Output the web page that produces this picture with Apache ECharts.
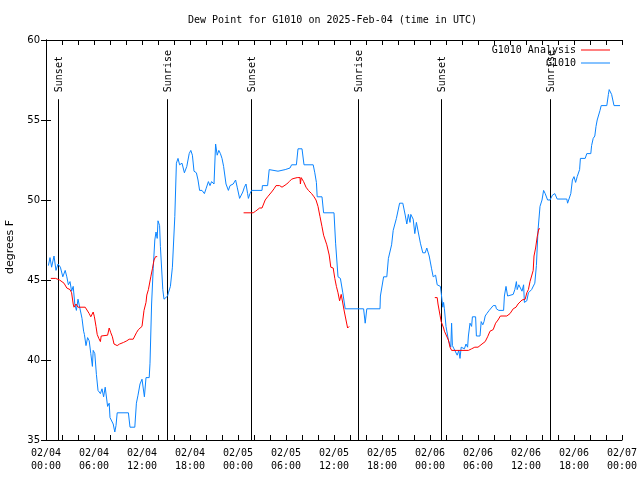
<!DOCTYPE html>
<html><head><meta charset="utf-8">
<script src="https://cdn.jsdelivr.net/npm/echarts@6/dist/echarts.min.js"></script>
<style>html,body{margin:0;padding:0;background:#fff}#c{width:640px;height:480px}</style>
</head><body><div id="c"></div>
<script>
// ---------------- data ----------------
const titleText = 'Dew Point for G1010 on 2025-Feb-04 (time in UTC)';
const yAxisName = 'degrees F';
const seriesNames = ['G1010 Analysis', 'G1010'];
const startMonth = '02';
const startDay = 4;          // hours are counted from 02/04 00:00 UTC
const xRange = [0, 72];
const yRange = [35, 60];

const sunHours = [1.55, 15.1, 25.6, 39.05, 49.4, 63.0];
const sunNames = ['Sunset', 'Sunrise', 'Sunset', 'Sunrise', 'Sunset', 'Sunrise'];

// observed G1010 dew point [hour, degF]
const g1010 = [
[0.3,45.9],[0.5,46.4],[0.7,45.8],[1.0,46.5],[1.25,45.6],[1.5,46.0],[1.8,45.8],[2.1,45.2],[2.4,45.6],[2.6,45.2],
[2.8,44.7],[3.0,44.9],[3.2,44.3],[3.4,44.6],[3.6,43.5],[3.8,43.1],[4.0,43.8],[4.2,43.7],[4.5,42.6],[4.7,41.8],
[4.8,41.6],[5.0,40.9],[5.2,41.4],[5.4,41.2],[5.6,40.4],[5.8,39.6],[5.9,40.6],[6.1,40.4],[6.3,39.1],[6.5,38.1],
[6.8,37.9],[7.0,38.2],[7.2,37.7],[7.4,38.3],[7.6,38.4],[7.7,37.1],[7.9,37.3],[8.0,36.4],[8.2,36.5],[8.4,36.0],
[8.6,35.5],[8.75,35.9],[8.9,36.7],[9.5,36.7],[10.3,36.7],[10.5,35.8],[11.1,35.8],[11.3,37.3],[11.5,37.8],[11.75,38.5],
[12.0,38.8],[12.3,37.7],[12.5,38.9],[12.9,38.9],[13.0,39.8],[13.2,43.5],[13.4,45.7],[13.6,47.5],[13.75,48.0],[13.9,47.6],
[14.0,48.7],[14.2,48.4],[14.3,47.1],[14.6,44.4],[14.75,43.8],[14.9,43.85],[15.2,44.0],[15.3,44.2],[15.55,44.6],[15.8,45.8],
[16.1,48.96],[16.3,52.3],[16.5,52.6],[16.7,52.2],[17.0,52.3],[17.3,51.7],[17.6,52.1],[17.9,52.9],[18.1,53.1],[18.3,52.8],
[18.5,51.8],[18.8,51.7],[19.0,51.25],[19.2,50.6],[19.5,50.6],[19.8,50.4],[20.0,50.7],[20.3,51.15],[20.5,50.9],[20.7,51.15],
[21.0,51.0],[21.2,53.5],[21.4,52.8],[21.6,53.1],[21.8,52.9],[22.0,52.6],[22.2,52.1],[22.5,51.0],[22.8,50.6],[23.0,50.9],
[23.4,51.0],[23.7,51.25],[23.9,50.8],[24.2,50.1],[24.3,50.0],[24.6,50.5],[24.8,50.8],[25.0,51.0],[25.2,50.4],[25.3,50.1],
[25.5,50.4],[25.7,50.6],[27.0,50.6],[27.05,50.9],[27.7,50.9],[27.9,51.9],[29.0,51.8],[29.9,51.9],[30.5,52.0],[30.7,52.2],
[31.3,52.2],[31.5,53.2],[32.0,53.2],[32.25,52.2],[33.4,52.2],[33.6,51.7],[33.8,51.1],[33.9,50.2],[34.5,50.2],[34.7,49.2],
[36.0,49.2],[36.2,47.3],[36.5,45.2],[36.8,45.1],[37.1,44.2],[37.2,44.2],[37.4,43.2],[39.7,43.2],[39.9,42.3],[40.1,43.2],
[41.75,43.2],[41.8,44.0],[42.2,45.2],[42.6,45.2],[42.8,46.35],[43.2,47.2],[43.4,48.1],[43.8,48.85],[44.2,49.8],[44.4,49.9],
[44.6,49.8],[44.9,49.06],[45.1,48.5],[45.3,49.1],[45.5,48.6],[45.6,49.1],[45.9,48.8],[46.1,47.9],[46.3,48.6],[46.5,48.5],
[46.8,47.3],[47.1,46.7],[47.4,46.7],[47.6,47.0],[47.9,46.5],[48.2,45.7],[48.4,45.2],[48.7,45.3],[48.9,44.7],[49.3,44.6],
[49.4,44.2],[49.6,43.3],[49.7,43.6],[49.8,43.2],[50.0,42.1],[50.2,42.0],[50.3,41.25],[50.6,40.8],[50.7,42.3],[50.8,40.9],
[51.0,40.7],[51.2,40.7],[51.4,40.3],[51.6,40.6],[51.75,40.1],[51.9,40.8],[52.1,40.9],[52.3,40.7],[52.5,41.0],[52.7,40.8],
[52.8,41.5],[53.0,42.3],[53.2,42.1],[53.3,42.7],[53.7,42.7],[53.8,41.5],[54.25,41.5],[54.4,42.4],[54.6,42.2],[54.75,42.4],
[54.9,42.75],[55.1,42.9],[55.4,43.1],[55.9,43.4],[56.2,43.4],[56.3,43.2],[56.6,43.1],[57.2,43.1],[57.3,44.0],[57.5,44.6],
[57.7,44.0],[58.4,44.1],[58.6,44.4],[58.8,44.9],[58.9,44.4],[59.1,44.7],[59.5,44.3],[59.7,44.7],[59.8,43.6],[60.1,43.7],
[60.3,44.2],[60.7,44.4],[61.1,44.8],[61.3,45.9],[61.5,48.1],[61.75,49.6],[62.0,50.0],[62.2,50.6],[62.4,50.4],[62.7,50.0],
[63.0,50.0],[63.3,50.3],[63.6,50.4],[63.9,50.06],[65.1,50.06],[65.2,49.8],[65.4,49.8],[65.6,50.4],[65.8,51.25],[66.0,51.46],
[66.2,51.1],[66.4,51.46],[66.7,51.9],[66.8,52.6],[67.4,52.6],[67.6,52.9],[68.1,52.9],[68.2,53.4],[68.4,53.85],[68.6,54.0],
[68.75,54.6],[68.9,55.0],[69.1,55.1],[69.25,55.6],[69.4,55.9],[70.1,55.9],[70.3,56.6],[70.4,56.9],[70.6,56.9],[70.7,56.6],
[71.0,55.9],[71.75,55.9]
];

// analysis runs [hour, degF]
const analysisRun1 = [
[0.6,45.1],[1.2,45.1],[1.7,45.0],[1.9,45.0],[2.25,44.8],[2.6,44.5],[3.0,44.4],[3.2,44.2],[3.4,43.5],[3.5,43.3],
[3.75,43.5],[4.0,43.3],[4.2,43.2],[4.5,43.3],[4.9,43.3],[5.1,43.2],[5.4,42.9],[5.6,42.7],[5.8,42.6],[5.9,43.0],
[6.05,42.7],[6.25,42.1],[6.4,41.6],[6.6,41.35],[6.8,41.15],[6.9,41.5],[7.0,41.55],[7.7,41.55],[7.9,42.0],[8.1,41.7],
[8.3,41.45],[8.5,41.0],[8.7,40.9],[8.9,40.9],[9.2,41.0],[9.7,41.1],[10.1,41.2],[10.4,41.3],[10.9,41.3],[11.1,41.4],
[11.3,41.7],[11.55,41.9],[11.75,42.0],[12.0,42.1],[12.1,42.5],[12.25,43.1],[12.5,43.6],[12.6,44.06],[12.8,44.4],[13.0,44.5],
[13.1,45.2],[13.3,45.7],[13.5,46.25],[13.7,46.46],[13.9,46.46]
];
const analysisRun2 = [
[24.7,49.2],[25.9,49.2],[26.2,49.3],[26.7,49.5],[27.0,49.5],[27.4,50.0],[27.7,50.2],[27.9,50.1],[28.2,50.5],[28.5,50.7],
[28.75,50.9],[29.2,50.9],[29.5,50.8],[29.75,50.8],[30.1,51.0],[30.4,51.15],[30.7,51.3],[31.0,51.35],[31.4,51.4],[31.75,51.4],
[31.8,51.0],[31.9,51.4],[32.2,51.15],[32.5,50.8],[32.8,50.6],[33.2,50.4],[33.5,50.2],[33.75,50.0],[34.0,49.6],[34.25,48.96],
[34.5,48.33],[34.7,47.8],[34.9,47.7],[35.1,47.2],[35.4,46.56],[35.6,45.8],[35.9,45.75],[36.1,45.1],[36.3,44.6],[36.5,44.2],
[36.7,43.7],[36.9,44.1],[37.0,44.1],[37.3,43.0],[37.5,42.5],[37.7,42.0],[37.9,42.1]
];
const analysisRun3 = [
[48.6,43.9],[48.9,43.9],[49.0,43.5],[49.25,42.8],[49.4,42.4],[49.7,42.0],[49.8,41.8],[50.0,41.7],[50.3,41.25],[50.5,40.8],
[50.7,40.6],[51.75,40.6],[52.8,40.6],[53.2,40.7],[53.6,40.8],[54.0,40.8],[54.5,41.0],[54.9,41.15],[55.2,41.45],[55.5,41.8],
[55.9,41.9],[56.2,42.3],[56.5,42.5],[56.8,42.75],[57.6,42.75],[58.0,42.9],[58.4,43.2],[58.75,43.3],[59.0,43.5],[59.5,43.75],
[59.9,43.8],[60.1,44.2],[60.3,44.4],[60.5,44.9],[60.7,45.0],[60.9,45.6],[61.0,46.5],[61.2,47.0],[61.4,47.7],[61.6,48.2],
[61.75,48.2]
];

// ---------------- chart ----------------
const mono = '"DejaVu Sans Mono", "Liberation Mono", monospace';
const sans = '"DejaVu Sans", sans-serif';
const sunLineTop = 56.3;

function xLabel(v) {
  const h = Math.round(v);
  if (h % 6 !== 0) return '';
  const d = startDay + Math.floor(h / 24);
  const hh = h % 24;
  return startMonth + '/' + String(d).padStart(2, '0') + '\n' + String(hh).padStart(2, '0') + ':00';
}

const analysisData = analysisRun1.concat([[19, '-']], analysisRun2, [[43, '-']], analysisRun3);

const axisLineStyle = { show: true, lineStyle: { color: '#000', width: 1 } };
const tickStyle = { show: true, inside: true, length: 5, lineStyle: { color: '#000', width: 1 } };

const chart = echarts.init(document.getElementById('c'), null, { renderer: 'canvas' });
chart.setOption({
  animation: false,
  backgroundColor: '#fff',
  title: {
    text: titleText, left: 183, top: 10,
    textStyle: { fontFamily: mono, fontSize: 10, fontWeight: 'normal', color: '#000' }
  },
  grid: { left: 46, right: 18, top: 40, bottom: 40, containLabel: false, outerBoundsMode: 'none' },
  legend: {
    data: seriesNames, orient: 'vertical', right: 30, top: 44, align: 'right', padding: 0,
    icon: 'rect', itemWidth: 29, itemHeight: 1, itemGap: 1,
    textStyle: { fontFamily: mono, fontSize: 10, color: '#000', lineHeight: 12 }
  },
  xAxis: [
    { type: 'value', min: xRange[0], max: xRange[1], interval: 2, position: 'bottom',
      axisLine: axisLineStyle, axisTick: tickStyle, splitLine: { show: false },
      axisLabel: { formatter: xLabel, fontFamily: mono, fontSize: 10, color: '#000', lineHeight: 13, margin: 7,
                   showMinLabel: true, showMaxLabel: true, hideOverlap: false } },
    { type: 'value', min: xRange[0], max: xRange[1], interval: 2, position: 'top',
      axisLine: axisLineStyle, axisTick: tickStyle, splitLine: { show: false }, axisLabel: { show: false } }
  ],
  yAxis: [
    { type: 'value', min: yRange[0], max: yRange[1], interval: 5, position: 'left',
      name: yAxisName, nameLocation: 'middle', nameGap: 30,
      nameTextStyle: { fontFamily: sans, fontSize: 11, color: '#000', padding: [0, 14, 0, 0] },
      axisLine: axisLineStyle, axisTick: tickStyle, splitLine: { show: false },
      axisLabel: { fontFamily: sans, fontSize: 10, color: '#000', margin: 6 } },
    { type: 'value', min: yRange[0], max: yRange[1], interval: 5, position: 'right',
      axisLine: axisLineStyle, axisTick: tickStyle, splitLine: { show: false }, axisLabel: { show: false } }
  ],
  series: [
    {
      type: 'custom', name: 'sun', xAxisIndex: 0, yAxisIndex: 0, silent: true, z: 1,
      data: sunHours.map(h => [h, yRange[0]]),
      renderItem: function (params, api) {
        const h = api.value(0);
        const p0 = api.coord([h, yRange[0]]);
        const p1 = api.coord([h, sunLineTop]);
        const x = Math.round(p0[0]) + 0.5;
        return {
          type: 'group',
          children: [
            { type: 'line', shape: { x1: x, y1: p0[1], x2: x, y2: p1[1] },
              style: { stroke: '#000', lineWidth: 1 } },
            { type: 'text', x: x + 1, y: p1[1] - 7, rotation: Math.PI / 2,
              style: { text: sunNames[params.dataIndex], x: 0, y: 0, align: 'left', verticalAlign: 'middle',
                       font: '10px ' + mono, fill: '#000' } }
          ]
        };
      }
    },
    {
      type: 'line', name: seriesNames[0], data: analysisData, showSymbol: false, connectNulls: false,
      color: '#ff0000', lineStyle: { color: '#ff0000', width: 1 }, z: 3
    },
    {
      type: 'line', name: seriesNames[1], data: g1010, showSymbol: false,
      color: '#0a84ff', lineStyle: { color: '#0a84ff', width: 1 }, z: 2
    }
  ]
});
</script></body></html>
